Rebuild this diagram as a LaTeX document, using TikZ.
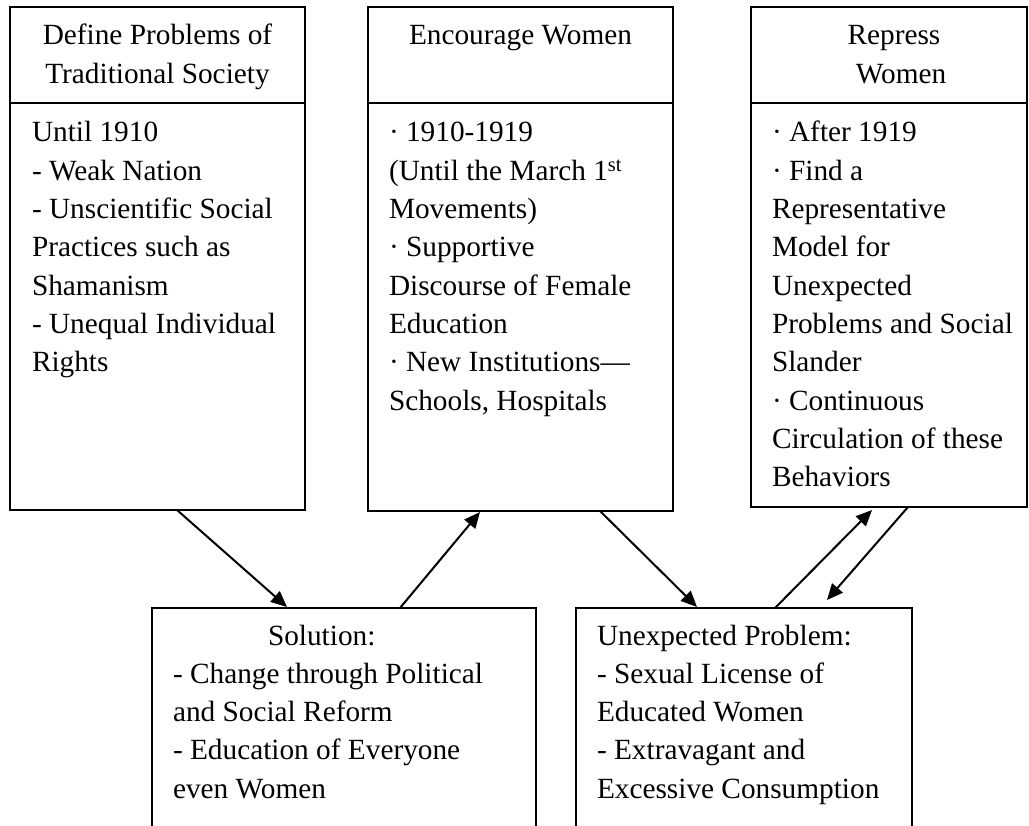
\documentclass[tikz,border=0pt]{standalone}
\usepackage{fontspec}
\setmainfont{Liberation Serif}
\usetikzlibrary{arrows.meta,calc}

\begin{document}
\begin{tikzpicture}[x=1pt,y=-1pt,
  box/.style={draw,line width=2pt,rectangle,inner sep=0pt,outer sep=0pt,anchor=north west},
  openbox/.style={rectangle,inner sep=0pt,outer sep=0pt,anchor=north west},
  rule/.style={line width=2pt},
  arr/.style={line width=2pt,-{Triangle[length=16pt,width=14pt]}},
  txt/.style={inner sep=0pt,outer sep=0pt,font=\fontsize{29.3}{38.3}\selectfont},
]
\useasboundingbox (0,0) rectangle (1029,826);

% upper row: three boxes with a heading band
\node[box,minimum width=295pt,minimum height=503pt] (b1) at (10,7) {};
\node[box,minimum width=305pt,minimum height=504pt] (b2) at (368,7) {};
\node[box,minimum width=276pt,minimum height=500pt] (b3) at (751,7) {};
\foreach \b in {b1,b2,b3}
  \draw[rule] ($(\b.north west)+(0,96)$) -- ($(\b.north east)+(0,96)$);

% lower row: two boxes running off the bottom edge
\node[openbox,minimum width=384pt,minimum height=219pt] (sol) at (152,608) {};
\node[openbox,minimum width=336pt,minimum height=219pt] (une) at (576,608) {};
\draw[rule] (sol.south west) -- (sol.north west) -- (sol.north east) -- (sol.south east);
\draw[rule] (une.south west) -- (une.north west) -- (une.north east) -- (une.south east);

% headings
\node[txt,anchor=base] (h1) at (157.5,45)
  {\begin{tabular}[t]{@{}c@{}}Define Problems of\\Traditional Society\end{tabular}};
\node[txt,anchor=base] (h2) at (520.5,45) {Encourage Women};
\node[txt,anchor=base] (h3) at (894,45)
  {\begin{tabular}[t]{@{}c@{}}Repress\\\hspace*{14pt}Women\end{tabular}};

% box contents
\node[txt,anchor=base west] (t1) at (32,142)
  {\begin{tabular}[t]{@{}l@{}}Until 1910\\- Weak Nation\\- Unscientific Social\\Practices such as\\Shamanism\\- Unequal Individual\\Rights\end{tabular}};
\node[txt,anchor=base west] (t2) at (389,142)
  {\begin{tabular}[t]{@{}l@{}}· 1910-1919\\(Until the March 1\textsuperscript{st}\\Movements)\\· Supportive\\Discourse of Female\\Education\\· New Institutions—\\Schools, Hospitals\end{tabular}};
\node[txt,anchor=base west] (t3) at (772,142)
  {\begin{tabular}[t]{@{}l@{}}· After 1919\\· Find a\\Representative\\Model for\\Unexpected\\Problems and Social\\Slander\\· Continuous\\Circulation of these\\Behaviors\end{tabular}};
\node[txt,anchor=base west] (t4) at (173,645)
  {\begin{tabular}[t]{@{}l@{}}\hspace*{95pt}Solution:\\- Change through Political\\and Social Reform\\- Education of Everyone\\even Women\end{tabular}};
\node[txt,anchor=base west] (t5) at (597,645)
  {\begin{tabular}[t]{@{}l@{}}Unexpected Problem:\\- Sexual License of\\Educated Women\\- Extravagant and\\Excessive Consumption\end{tabular}};

% connectors
\draw[arr] ($(b1.south west)+(167,0)$) -- ($(sol.north west)+(135,-1)$);
\draw[arr] ($(sol.north west)+(248,0)$) -- ($(b2.south west)+(112,1)$);
\draw[arr] ($(b2.south west)+(232,0)$) -- ($(une.north west)+(121,-1)$);
\draw[arr] ($(une.north west)+(199,0)$) -- ($(b3.south west)+(121,3)$);
\draw[arr] ($(b3.south west)+(157,0)$) -- ($(une.north west)+(251,-8)$);
\end{tikzpicture}
\end{document}
